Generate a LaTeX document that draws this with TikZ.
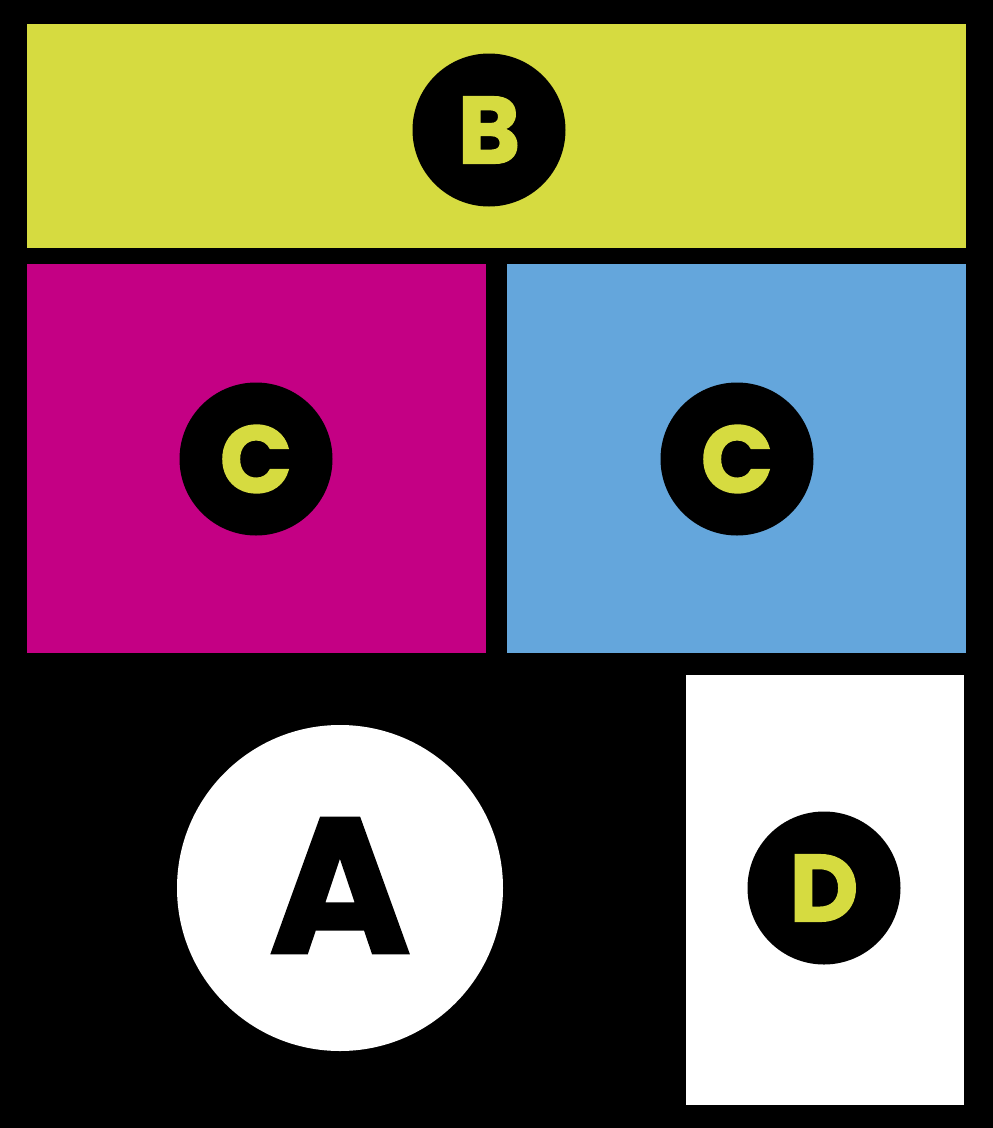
\documentclass[tikz,border=0pt]{standalone}
\usepackage{fontspec}
\setmainfont{Poppins}[BoldFeatures={FakeBold=1.5}]
\definecolor{lime}{RGB}{214,219,64}
\definecolor{mag}{RGB}{196,0,132}
\definecolor{sky}{RGB}{100,166,220}
\begin{document}
\begin{tikzpicture}[x=1pt,y=-1pt,
  badge/.style={circle,fill=black,draw=none,inner sep=0pt,minimum size=153pt,text=lime,font=\fontsize{95}{95}\selectfont\bfseries},
  bigbadge/.style={circle,fill=white,draw=none,inner sep=0pt,minimum size=326pt,text=black,font=\fontsize{192}{192}\selectfont\bfseries}]
\fill[black] (0,0) rectangle (993,1128);
\useasboundingbox (0,0) rectangle (993,1128);
\fill[lime] (27,24) rectangle (966,248);
\fill[mag] (27,264) rectangle (486,653);
\fill[sky] (507,264) rectangle (966,653);
\fill[white] (686,675) rectangle (964,1105);
\node[badge] (b) at (489,130) {B};
\node[badge] (c1) at (256,459) {C};
\node[badge] (c2) at (737,459) {C};
\node[badge] (d) at (824,888) {D};
\node[bigbadge] (a) at (340,888) {\raisebox{5pt}{A}};
\end{tikzpicture}
\end{document}
